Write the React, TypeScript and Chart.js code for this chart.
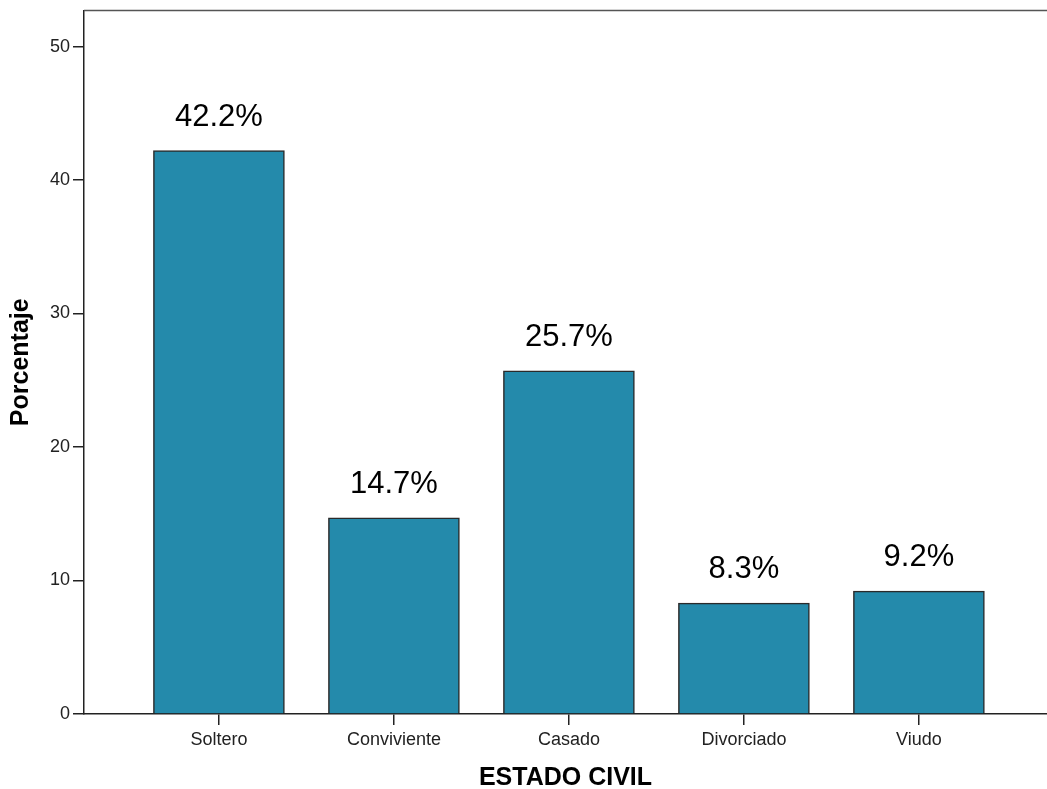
import React, { useEffect, useRef } from "react";
import { Chart, registerables } from "chart.js";

Chart.register(...registerables);

const categories = ["Soltero", "Conviviente", "Casado", "Divorciado", "Viudo"];
const percentages = [42.2, 14.7, 25.7, 8.3, 9.2];
const yTickValues = [0, 10, 20, 30, 40, 50];
const xTitle = "ESTADO CIVIL";
const yTitle = "Porcentaje";

const FONT = "'Liberation Sans', Arial, Helvetica, sans-serif";

const labelPlugin = {
  id: "barLabels",
  afterDatasetsDraw(chart: any) {
    const ctx = chart.ctx;
    const meta = chart.getDatasetMeta(0);
    ctx.save();
    ctx.font = `31px ${FONT}`;
    ctx.fillStyle = "#000";
    ctx.textAlign = "center";
    ctx.textBaseline = "alphabetic";
    meta.data.forEach((el: any, i: number) => {
      ctx.fillText(percentages[i].toFixed(1) + "%", el.x, el.y - 25);
    });
    ctx.restore();
  },
};

const framePlugin = {
  id: "frameTop",
  afterDraw(chart: any) {
    const { ctx, chartArea } = chart;
    ctx.save();
    ctx.strokeStyle = "#555";
    ctx.lineWidth = 1.5;
    ctx.beginPath();
    ctx.moveTo(chartArea.left, chartArea.top);
    ctx.lineTo(chartArea.right, chartArea.top);
    ctx.stroke();
    ctx.restore();
  },
};

export default function App() {
  const ref = useRef<HTMLCanvasElement>(null);

  useEffect(() => {
    document.body.style.margin = "0";
    if (!ref.current) return;
    const chart = new Chart(ref.current, {
      type: "bar",
      data: {
        datasets: [
          {
            data: percentages.map((v, i) => ({ x: i, y: v })),
            backgroundColor: "rgb(36,138,171)",
            borderColor: "#2a2a2a",
            borderWidth: 1.5,
            barThickness: 131,
          },
        ],
      },
      options: {
        responsive: false,
        animation: false,
        devicePixelRatio: 1,
        layout: { padding: { left: 0, right: 0, top: 10.5, bottom: 0 } },
        plugins: {
          legend: { display: false },
          tooltip: { enabled: false },
        },
        scales: {
          x: {
            type: "linear",
            offset: false,
            min: -0.771,
            max: 4.732,
            afterBuildTicks: (scale: any) => {
              scale.ticks = categories.map((_, i) => ({ value: i }));
            },
            afterFit: (scale: any) => {
              scale.height = 75;
              scale.paddingLeft = 0;
              scale.paddingRight = 0;
            },
            grid: {
              offset: false,
              drawOnChartArea: false,
              drawTicks: true,
              tickLength: 11,
              color: "#222",
              lineWidth: 1.5,
            },
            border: { display: true, color: "#222", width: 1.5 },
            ticks: {
              autoSkip: false,
              maxRotation: 0,
              padding: 4,
              color: "#222",
              font: { family: FONT, size: 18 },
              callback: (v: any) => categories[Math.round(Number(v))] ?? "",
            },
            title: {
              display: true,
              text: xTitle,
              color: "#000",
              font: { family: FONT, size: 25, weight: "bold", lineHeight: 0.85 },
              padding: { top: 0, bottom: 0 },
            },
          },
          y: {
            type: "linear",
            min: 0,
            max: 52.7,
            afterBuildTicks: (scale: any) => {
              scale.ticks = yTickValues.map((v) => ({ value: v }));
            },
            afterFit: (scale: any) => {
              scale.width = 84;
              scale.paddingTop = 0;
              scale.paddingBottom = 0;
            },
            grid: {
              drawOnChartArea: false,
              drawTicks: true,
              tickLength: 11,
              color: "#222",
              lineWidth: 1.5,
            },
            border: { display: true, color: "#222", width: 1.5 },
            ticks: {
              padding: 3,
              color: "#222",
              font: { family: FONT, size: 18 },
            },
            title: {
              display: true,
              text: yTitle,
              color: "#000",
              font: { family: FONT, size: 25, weight: "bold" },
              padding: { top: 6, bottom: 0 },
            },
          },
        },
      },
      plugins: [labelPlugin, framePlugin],
    });
    return () => chart.destroy();
  }, []);

  return (
    <div style={{ width: 1047, height: 789 }}>
      <canvas ref={ref} width={1047} height={789} style={{ display: "block" }} />
    </div>
  );
}
